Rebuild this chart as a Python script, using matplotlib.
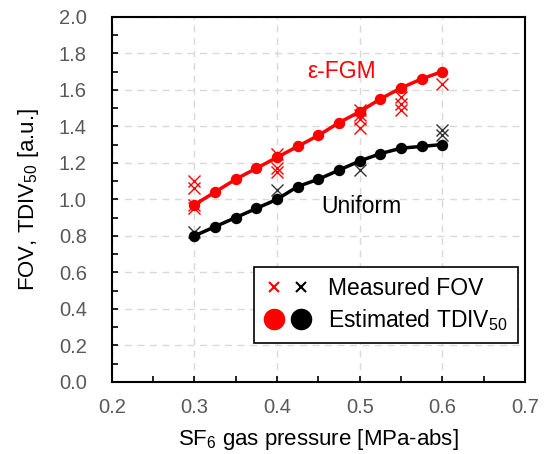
import numpy as np
import matplotlib
matplotlib.use('Agg')
import matplotlib.pyplot as plt
from matplotlib.ticker import MultipleLocator
from matplotlib.legend_handler import HandlerTuple

plt.rcParams['font.family'] = ['Liberation Sans', 'DejaVu Sans']
plt.rcParams['mathtext.fontset'] = 'custom'
plt.rcParams['mathtext.rm'] = 'Liberation Sans'
plt.rcParams['mathtext.it'] = 'Liberation Sans:italic'

# estimated TDIV50 (lines with dots)
p_est = [0.3, 0.325, 0.35, 0.375, 0.4, 0.425, 0.45, 0.475, 0.5, 0.525, 0.55, 0.575, 0.6]
tdiv_fgm = [0.97, 1.04, 1.11, 1.17, 1.23, 1.29, 1.35, 1.42, 1.48, 1.55, 1.61, 1.66, 1.70]
tdiv_uni = [0.80, 0.85, 0.90, 0.95, 1.00, 1.07, 1.11, 1.16, 1.21, 1.25, 1.28, 1.29, 1.30]

# measured FOV (crosses)
p_fov_fgm = [0.3, 0.3, 0.3, 0.3, 0.4, 0.4, 0.4, 0.5, 0.5, 0.5, 0.5, 0.55, 0.55, 0.55, 0.6]
fov_fgm = [1.10, 1.06, 0.97, 0.95, 1.25, 1.17, 1.15, 1.49, 1.46, 1.44, 1.39, 1.56, 1.52, 1.49, 1.63]
p_fov_uni = [0.3, 0.4, 0.5, 0.6, 0.6]
fov_uni = [0.82, 1.05, 1.16, 1.38, 1.35]

red = '#ff0000'
fig = plt.figure(figsize=(5.48, 4.54), dpi=100)
ax = fig.add_axes([0.204, 0.159, 0.754, 0.804])

ax.plot(p_fov_fgm, fov_fgm, 'x', color=red, ms=9, mew=1.0, zorder=3)
ax.plot(p_fov_uni, fov_uni, 'x', color='#333333', ms=9, mew=1.0, zorder=3)
ax.plot(p_est, tdiv_fgm, '-o', color=red, lw=2.5, ms=7.2, zorder=4)
ax.plot(p_est, tdiv_uni, '-o', color='black', lw=2.5, ms=7.2, zorder=4)

ax.text(0.4776, 1.70, 'ε-FGM', color=red, fontsize=16.5, ha='center', va='center')
ax.text(0.502, 0.96, 'Uniform', color='black', fontsize=16.5, ha='center', va='center')

ax.set_xlim(0.2, 0.7)
ax.set_ylim(0.0, 2.0)
ax.xaxis.set_major_locator(MultipleLocator(0.1))
ax.xaxis.set_minor_locator(MultipleLocator(0.05))
ax.yaxis.set_major_locator(MultipleLocator(0.2))
ax.yaxis.set_minor_locator(MultipleLocator(0.1))
ax.xaxis.set_major_formatter(plt.FormatStrFormatter('%.1f'))
ax.yaxis.set_major_formatter(plt.FormatStrFormatter('%.1f'))
ax.tick_params(which='both', direction='in', length=4, width=1.2, colors='black',
               labelcolor='#595959', labelsize=14.5, top=False, right=False)
ax.tick_params(axis='x', which='major', pad=12)
ax.tick_params(axis='y', which='major', pad=18)
ax.grid(True, which='major', ls=(0, (5, 4)), color='#d9d9d9', lw=1.0)
ax.set_axisbelow(True)
for s in ax.spines.values():
    s.set_linewidth(1.5)
    s.set_color('black')

ax.set_xlabel('SF$_6$ gas pressure [MPa-abs]', fontsize=16, labelpad=7)
ax.set_ylabel('FOV, TDIV$_{50}$ [a.u.]', fontsize=16, labelpad=13)

hx_r, = ax.plot([], [], 'x', color=red, ms=7.5, mew=1.5)
hx_k, = ax.plot([], [], 'x', color='black', ms=7.5, mew=1.5)
ho_r, = ax.plot([], [], 'o', color=red, ms=14.5)
ho_k, = ax.plot([], [], 'o', color='black', ms=14.5)
leg = ax.legend([(hx_r, hx_k), (ho_r, ho_k)],
                ['Measured FOV', 'Estimated TDIV$_{50}$'],
                handler_map={tuple: HandlerTuple(ndivide=None, pad=0.36)},
                loc='lower right', bbox_to_anchor=(0.982, 0.105), fontsize=16.5,
                fancybox=False, framealpha=1, edgecolor='black',
                handlelength=2.0, handletextpad=0.75, borderpad=0.45,
                labelspacing=0.3, borderaxespad=0)
leg.get_frame().set_linewidth(1.2)

fig.savefig('out.png', dpi=100)
